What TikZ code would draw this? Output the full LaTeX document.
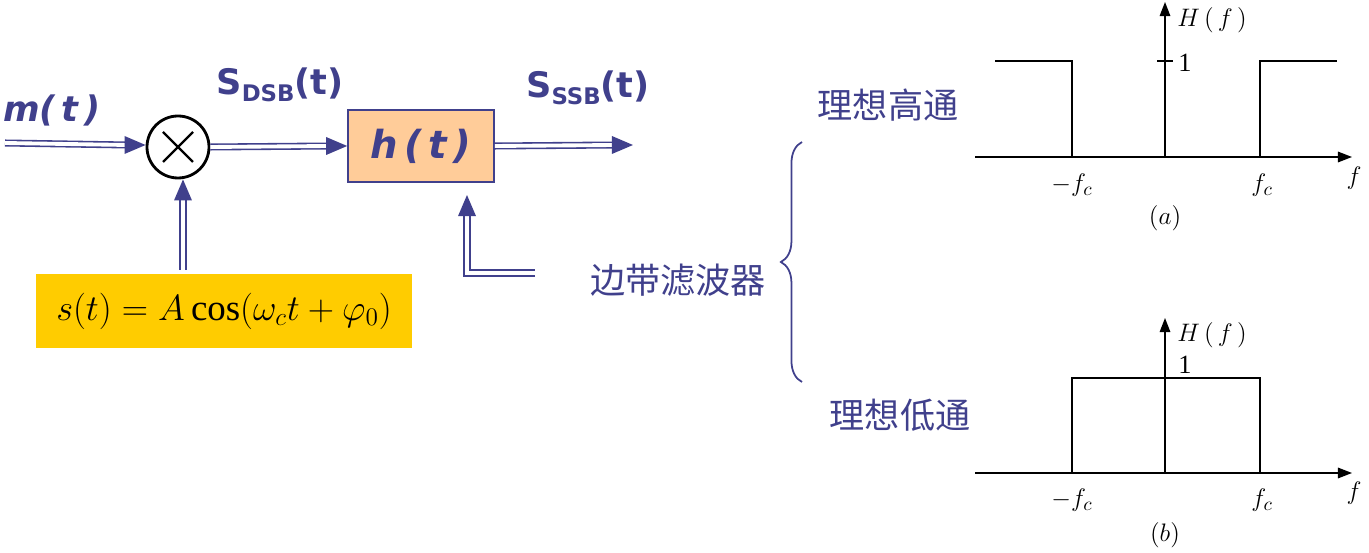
\documentclass[tikz,border=0pt]{standalone}
\usepackage{fontspec}
\setmainfont{Liberation Serif}
\setsansfont{DejaVu Sans}
\newfontfamily\cjk{Noto Sans CJK SC}
\usetikzlibrary{arrows.meta,calc,decorations.pathreplacing}
\definecolor{navy}{RGB}{64,64,140}
\definecolor{peach}{RGB}{255,204,153}
\definecolor{gold}{RGB}{255,204,0}
\tikzset{
  dbl/.style={draw=navy,double=white,double distance=2.2pt,line width=0.9pt},
  head/.style={draw=navy,line width=0.9pt,-{Triangle[length=12pt,width=10pt]}},
  lbl/.style={text=navy,font=\sffamily\bfseries\fontsize{20}{24}\selectfont},
  sub/.style={font=\sffamily\bfseries\fontsize{13}{15}\selectfont},
  cn/.style={text=navy,font=\cjk\fontsize{20}{24}\selectfont},
  ax/.style={line width=0.8pt,-{Triangle[length=8pt,width=6pt]}},
  sm/.style={font=\fontsize{15}{17}\selectfont}
}
\begin{document}
\begin{tikzpicture}[x=0.02cm,y=-0.02cm]
\useasboundingbox (0,0) rectangle (1369,553);
% block diagram
\node[circle,draw,line width=1.6pt,minimum size=62*0.02cm,inner sep=0pt] (mul) at (178,147) {};
\draw[line width=1.4pt] ($(mul.center)+(-15,-15)$) -- ($(mul.center)+(15,15)$)
  ($(mul.center)+(15,-15)$) -- ($(mul.center)+(-15,15)$);
\node[draw=navy,fill=peach,line width=0.9pt,minimum width=146*0.02cm,minimum height=72*0.02cm,
  text=navy,font=\sffamily\bfseries\itshape\fontsize{22}{26}\selectfont] (filt) at (421,146) {h\,(\,t\,)};
\node[fill=gold,minimum width=376*0.02cm,minimum height=74*0.02cm,font=\fontsize{21}{26}\selectfont] (osc) at (224,311)
  {$s(t)=A\cos\!\big(\omega_c t+\varphi_0\big)$};
\coordinate (in) at (5,143);
\coordinate (out) at (633,145);
\coordinate (sel) at (535,273);
\coordinate (bend) at (467,273);
\coordinate (hin) at (467,195);
\node[lbl,font=\sffamily\bfseries\itshape\fontsize{20}{24}\selectfont,anchor=west,inner sep=0pt] at (3,110) {m(\,t\,)};
\node[lbl] at (280,85) {S\raisebox{-0.35ex}{\sffamily\bfseries\fontsize{13}{15}\selectfont DSB}(t)};
\node[lbl] at (588,88) {S\raisebox{-0.35ex}{\sffamily\bfseries\fontsize{13}{15}\selectfont SSB}(t)};
\draw[dbl] (in) -- ($(mul.west)+(-18,-2)$);
\draw[head] ($(mul.west)+(-20,-2)$) -- ($(mul.west)+(0,-2)$);
\draw[dbl] (mul.east) -- ($(filt.west)+(-18,0)$);
\draw[head] ($(filt.west)+(-20,0)$) -- (filt.west);
\draw[dbl] (filt.east) -- ($(out)+(-18,0)$);
\draw[head] ($(out)+(-20,0)$) -- (out);
\draw[dbl] ($(osc.north)+(-41,-4)$) -- ($(mul.south)+(5,18)$);
\draw[head] ($(mul.south)+(5,20)$) -- ($(mul.south)+(5,0)$);
\draw[dbl] (sel) -- (bend) -- ($(hin)+(0,18)$);
\draw[head] ($(hin)+(0,20)$) -- (hin);
\node[cn] (bpf) at (678,280) {边带滤波器};
\draw[navy,line width=1pt,decorate,decoration={brace,amplitude=12pt}] (802,382) -- (802,142);
\node[cn] (hp) at (888,105) {理想高通};
\node[cn] (lp) at (900,415) {理想低通};
% (a) high pass
\coordinate (ao) at (1165,157);
\draw[ax] (975,157) -- (1352,157);
\draw[ax] (ao) -- (1165,2);
\draw[line width=0.8pt] (995,61) -- (1072,61) -- (1072,157);
\draw[line width=0.8pt] (1260,157) -- (1260,61) -- (1337,61);
\draw[line width=0.8pt] (1157,61) -- (1173,61);
\node[sm] at (1185,63) {1};
\node[sm] at (1212,20) {$H\,(\,f\,)$};
\node[sm] at (1072,185) {$-f_c$};
\node[sm] at (1262,185) {$f_c$};
\node[sm] at (1354,178) {$f$};
\node[sm] at (1165,218) {$(a)$};
% (b) low pass
\draw[ax] (975,473) -- (1352,473);
\draw[ax] (1165,473) -- (1165,318);
\draw[line width=0.8pt] (1072,473) -- (1072,378) -- (1260,378) -- (1260,473);
\node[sm] at (1185,365) {1};
\node[sm] at (1212,335) {$H\,(\,f\,)$};
\node[sm] at (1072,500) {$-f_c$};
\node[sm] at (1262,500) {$f_c$};
\node[sm] at (1354,493) {$f$};
\node[sm] at (1165,535) {$(b)$};
\end{tikzpicture}
\end{document}
